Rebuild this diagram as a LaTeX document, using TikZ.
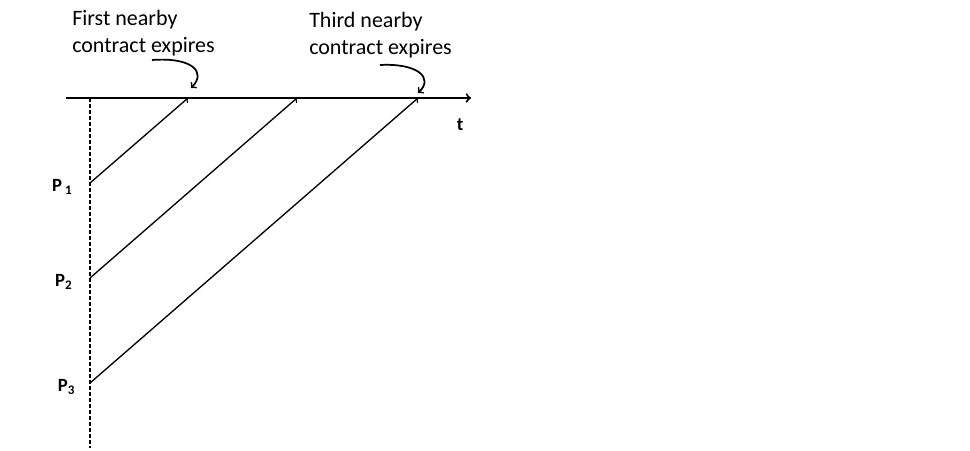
\documentclass[tikz,border=0pt]{standalone}
\usepackage{fontspec}
\setmainfont{Carlito}
\usetikzlibrary{positioning}

\tikzset{
	lbl/.style={font=\fontsize{16.5}{20}\selectfont, align=left, inner sep=0pt},
	plbl/.style={font=\fontsize{14}{16}\selectfont\bfseries, inner sep=0pt},
}

\begin{document}
\begin{tikzpicture}[x=0.75pt,y=-0.75pt]
		\useasboundingbox (0,0) rectangle (970,450);
		
		\coordinate (a0) at (66,98);
		\coordinate (a1) at (471,98);
		\coordinate (top) at (90,98);
		\coordinate (bot) at (90,448);
		
		\coordinate (p1) at (90,183);
		\coordinate (p2) at (90,278);
		\coordinate (p3) at (90,383);
		\coordinate (e1) at (188,98);
		\coordinate (e2) at (297,98);
		\coordinate (e3) at (418,98);
		
		\node[plbl, left=13pt of p1, yshift=-3pt] (l1) {P\,\textsubscript{1}};
		\node[plbl, left=13pt of p2, yshift=-3pt] (l2) {P\textsubscript{2}};
		\node[plbl, left=11pt of p3, yshift=-3pt] (l3) {P\textsubscript{3}};
		\node[plbl] (t) at (460,125) {t};
		
		\node[lbl, anchor=north west] (first) at (72,10) {First nearby\\contract expires};
		\node[lbl, anchor=north west] (third) at (309,12) {Third nearby\\contract expires};
		
		\draw[->, line width=1.5pt] (a0) -- (a1);
		\draw[line width=1.1pt, dash pattern=on 3pt off 1.5pt] (top) -- (bot);
		
		\draw[->, line width=1pt] (p1) -- (e1);
		\draw[->, line width=1pt] (p2) -- (e2);
		\draw[->, line width=1pt] (p3) -- (e3);
		
		\draw[->, line width=1.3pt] (152,60) coordinate (c1) .. controls (192,57) and (207,72) .. (191,88);
		\draw[->, line width=1.3pt] (380,65) coordinate (c2) .. controls (418,63) and (434,78) .. (418,93);
	\end{tikzpicture}
\end{document}
